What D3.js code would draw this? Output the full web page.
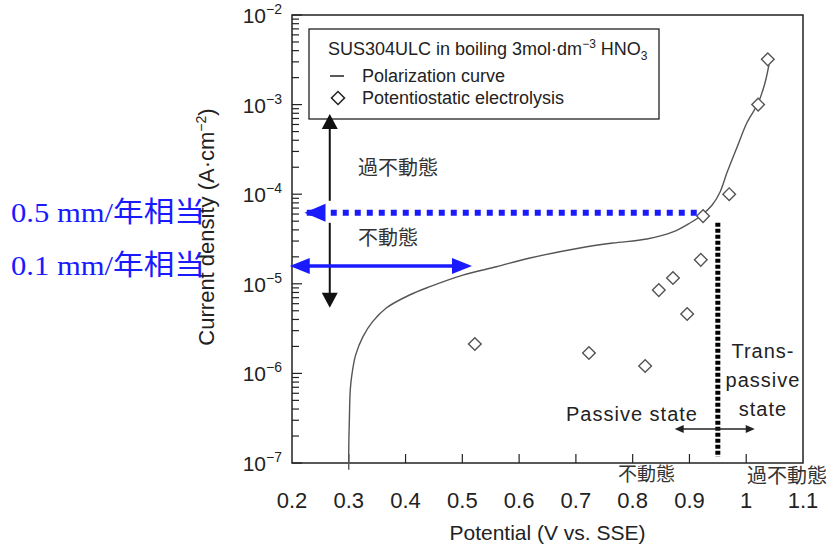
<!DOCTYPE html>
<html>
<head>
<meta charset="utf-8">
<script src="https://cdn.jsdelivr.net/npm/d3@7"></script>
<style>
  body { margin: 0; background: #fff; }
  text { font-family: "Liberation Sans", Arial, "Noto Sans CJK JP", sans-serif; fill: #222; }
  .jp { font-family: "Noto Sans CJK JP", sans-serif; fill: #333; }
  .blue { font-family: "Liberation Serif", "Times New Roman", "Noto Sans CJK JP", serif; fill: #1a1aff; }
</style>
</head>
<body>
<svg id="chart" width="829" height="544"></svg>
<script>
// polarization curve, potential (V vs. SSE) / current density (A/cm2)
const curveE = [0.300, 0.300, 0.301, 0.3026, 0.305, 0.312, 0.325, 0.342, 0.366, 0.407, 0.443, 0.501, 0.560, 0.619, 0.707, 0.765, 0.825, 0.871, 0.901, 0.922, 0.940, 0.954, 0.966, 0.984, 1.001, 1.021, 1.033, 1.040];
const curveI = [8.4e-8, 1.5e-7, 3.0e-7, 6.5e-7, 9.2e-7, 1.6e-6, 2.57e-6, 3.78e-6, 5.37e-6, 7.5e-6, 9.3e-6, 1.25e-5, 1.55e-5, 1.94e-5, 2.51e-5, 2.85e-5, 3.16e-5, 3.79e-5, 4.77e-5, 5.86e-5, 7.57e-5, 1.06e-4, 1.73e-4, 3.36e-4, 6.23e-4, 1.04e-3, 1.74e-3, 2.77e-3];

// potentiostatic electrolysis
const pointE = [1.038, 1.021, 0.970, 0.924, 0.920, 0.871, 0.846, 0.896, 0.522, 0.723, 0.822];
const pointI = [3.2e-3, 1.0e-3, 1.0e-4, 5.7e-5, 1.85e-5, 1.16e-5, 8.5e-6, 4.6e-6, 2.13e-6, 1.69e-6, 1.21e-6];

const xTicks = [0.2, 0.3, 0.4, 0.5, 0.6, 0.7, 0.8, 0.9, 1.0, 1.1];
const yTicks = [1e-7, 1e-6, 1e-5, 1e-4, 1e-3, 1e-2];
const yExps = ["−7", "−6", "−5", "−4", "−3", "−2"];

// corrosion-rate levels
const rateLabels = ["0.5 mm/年相当", "0.1 mm/年相当"];
const rateI = [6.2e-5, 1.58e-5];

const svg = d3.select("#chart");
const pLeft = 292, pRight = 803, pTop = 15, pBottom = 463;

const x = d3.scaleLinear().domain([0.2, 1.1]).range([pLeft, pRight]);
const y = d3.scaleLog().domain([1e-7, 1e-2]).range([pBottom, pTop]);

// frame
svg.append("rect")
  .attr("x", pLeft).attr("y", pTop)
  .attr("width", pRight - pLeft).attr("height", pBottom - pTop)
  .attr("fill", "none").attr("stroke", "#222").attr("stroke-width", 1.5);

// y ticks (inside)
let minor = [];
for (let e = -7; e < -2; e++) for (let m = 2; m <= 9; m++) minor.push(m * Math.pow(10, e));
svg.append("g").selectAll("line").data(minor).enter().append("line")
  .attr("x1", pLeft).attr("x2", pLeft + 7)
  .attr("y1", d => y(d)).attr("y2", d => y(d))
  .attr("stroke", "#222").attr("stroke-width", 1.2);
svg.append("g").selectAll("line").data(yTicks).enter().append("line")
  .attr("x1", pLeft).attr("x2", pLeft + 10)
  .attr("y1", d => y(d)).attr("y2", d => y(d))
  .attr("stroke", "#222").attr("stroke-width", 1.2);

let yl = svg.append("g").selectAll("text").data(yTicks).enter().append("text")
  .attr("x", 282).attr("y", d => y(d) + 8)
  .attr("text-anchor", "end")
  .style("font-size", "21px");
yl.append("tspan").text("10");
yl.append("tspan").attr("dy", -9).style("font-size", "14px").text((d, i) => yExps[i]);

// x ticks (inside)
svg.append("g").selectAll("line").data(xTicks.slice(1, -1)).enter().append("line")
  .attr("x1", d => x(d)).attr("x2", d => x(d))
  .attr("y1", pBottom).attr("y2", pBottom - 9)
  .attr("stroke", "#222").attr("stroke-width", 1.2);
svg.append("g").selectAll("text").data(xTicks).enter().append("text")
  .attr("x", d => x(d)).attr("y", 508)
  .attr("text-anchor", "middle")
  .style("font-size", "22px")
  .text(d => d === 1 ? "1" : d3.format(".1f")(d));

// axis titles
svg.append("text")
  .attr("x", (pLeft + pRight) / 2).attr("y", 540)
  .attr("text-anchor", "middle").style("font-size", "21px")
  .text("Potential (V vs. SSE)");
let yt = svg.append("text")
  .attr("transform", "translate(214,227) rotate(-90)")
  .attr("text-anchor", "middle").style("font-size", "22px");
yt.append("tspan").text("Current density (A·cm");
yt.append("tspan").attr("dy", -8).style("font-size", "14px").text("−2");
yt.append("tspan").attr("dy", 8).text(")");

// polarization curve
const line = d3.line()
  .x(d => x(d[0])).y(d => y(d[1]))
  .curve(d3.curveCatmullRom.alpha(0.5));
svg.append("path")
  .datum(curveE.map((e, i) => [e, curveI[i]]))
  .attr("d", line)
  .attr("fill", "none").attr("stroke", "#555").attr("stroke-width", 1.4);

// diamonds
const dsym = d3.symbol().type(d3.symbolSquare).size(80);
svg.append("g").selectAll("path").data(pointE).enter().append("path")
  .attr("d", dsym)
  .attr("transform", (d, i) => "translate(" + x(d) + "," + y(pointI[i]) + ") rotate(45)")
  .attr("fill", "#fff").attr("stroke", "#555").attr("stroke-width", 1.4);

// legend
const lg = svg.append("g");
lg.append("rect").attr("x", 309).attr("y", 29).attr("width", 350).attr("height", 90)
  .attr("fill", "#fff").attr("stroke", "#222").attr("stroke-width", 1.3);
let t1 = lg.append("text").attr("x", 328).attr("y", 55).style("font-size", "18px");
t1.append("tspan").text("SUS304ULC in boiling 3mol·dm");
t1.append("tspan").attr("dy", -7).style("font-size", "12px").text("−3");
t1.append("tspan").attr("dy", 7).text(" HNO");
t1.append("tspan").attr("dy", 5).style("font-size", "12px").text("3");
lg.append("line").attr("x1", 330).attr("x2", 344).attr("y1", 76).attr("y2", 76)
  .attr("stroke", "#222").attr("stroke-width", 1.5);
lg.append("text").attr("x", 362).attr("y", 82).style("font-size", "18px").text("Polarization curve");
lg.append("path").attr("d", d3.symbol().type(d3.symbolSquare).size(85))
  .attr("transform", "translate(338,98) rotate(45)")
  .attr("fill", "#fff").attr("stroke", "#222").attr("stroke-width", 1.5);
lg.append("text").attr("x", 362).attr("y", 104).style("font-size", "18px").text("Potentiostatic electrolysis");

// arrow head helper: tip (tx,ty), direction angle in degrees, length, half width
function head(g, tx, ty, ang, len, hw, color) {
  g.append("path")
    .attr("d", "M0,0L" + (-len) + "," + (-hw) + "L" + (-len) + "," + hw + "Z")
    .attr("transform", "translate(" + tx + "," + ty + ") rotate(" + ang + ")")
    .attr("fill", color);
}
const ann = svg.append("g");

// black vertical double arrow (passive / transpassive range)
const ax = x(0.2665), aTop = y(7.85e-4), aBot = y(5.4e-6), gapY = y(rateI[0]);
ann.append("line").attr("x1", ax).attr("x2", ax).attr("y1", aTop + 12).attr("y2", gapY - 12)
  .attr("stroke", "#111").attr("stroke-width", 2);
ann.append("line").attr("x1", ax).attr("x2", ax).attr("y1", gapY + 10).attr("y2", aBot - 12)
  .attr("stroke", "#111").attr("stroke-width", 2);
head(ann, ax, aTop, -90, 15, 8, "#111");
head(ann, ax, aBot, 90, 15, 8, "#111");
ann.append("text").attr("class", "jp").attr("x", 358).attr("y", 175).style("font-size", "20px").text("過不動態");
ann.append("text").attr("class", "jp").attr("x", 358).attr("y", 245).style("font-size", "20px").text("不動態");

// blue dotted arrow (0.5 mm/year)
const b1 = y(rateI[0]);
ann.append("line").attr("x1", x(0.226)).attr("x2", x(0.918)).attr("y1", b1).attr("y2", b1)
  .attr("stroke", "#1a1aff").attr("stroke-width", 6).attr("stroke-dasharray", "6,6");
head(ann, x(0.222), b1, 180, 21, 9, "#1a1aff");

// blue solid double arrow (0.1 mm/year)
const b2 = y(rateI[1]);
ann.append("line").attr("x1", x(0.196) + 15).attr("x2", x(0.517) - 15).attr("y1", b2).attr("y2", b2)
  .attr("stroke", "#1a1aff").attr("stroke-width", 3.5);
head(ann, x(0.196), b2, 180, 20, 8, "#1a1aff");
head(ann, x(0.517), b2, 0, 20, 8, "#1a1aff");

// blue labels
svg.append("g").selectAll("text").data(rateLabels).enter().append("text")
  .attr("class", "blue").attr("x", 11).attr("y", (d, i) => y(rateI[i]) + 9)
  .style("font-size", "28px")
  .attr("textLength", 194).attr("lengthAdjust", "spacingAndGlyphs")
  .text(d => d);

// black dotted boundary line
const bx = x(0.950);
ann.append("line").attr("x1", bx).attr("x2", bx).attr("y1", y(4.8e-5)).attr("y2", y(1.17e-7))
  .attr("stroke", "#000").attr("stroke-width", 5).attr("stroke-dasharray", "4,2");

// small horizontal double arrow
const hy = y(2.4e-7);
ann.append("line").attr("x1", x(0.874) + 6).attr("x2", x(1.015) - 6).attr("y1", hy).attr("y2", hy)
  .attr("stroke", "#222").attr("stroke-width", 1.6);
head(ann, x(0.874), hy, 180, 9, 4, "#222");
head(ann, x(1.015), hy, 0, 9, 4, "#222");

ann.append("text").attr("x", 632).attr("y", 421).attr("text-anchor", "middle")
  .style("font-size", "20px").style("letter-spacing", "1px").text("Passive state");
ann.selectAll("text.tp").data(["Trans-", "passive", "state"]).enter().append("text")
  .attr("class", "tp").attr("x", 763).attr("y", (d, i) => 358 + i * 29)
  .attr("text-anchor", "middle").style("font-size", "20px").style("letter-spacing", "1px")
  .text(d => d);

// region labels below the axis
ann.append("text").attr("class", "jp").attr("x", 618).attr("y", 481).style("font-size", "19px").text("不動態");
ann.append("text").attr("class", "jp").attr("x", 747).attr("y", 483).style("font-size", "20px").text("過不動態");
</script>
</body>
</html>
